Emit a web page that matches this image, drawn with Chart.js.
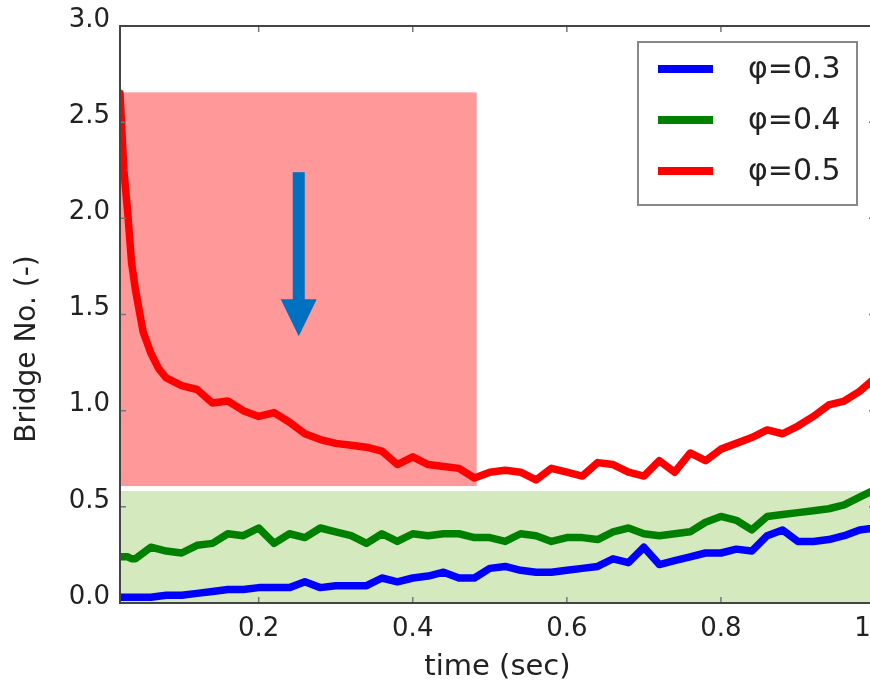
<!DOCTYPE html>
<html>
<head>
<meta charset="utf-8">
<script src="https://cdn.jsdelivr.net/npm/chart.js@4/dist/chart.umd.min.js"></script>
<style>
html, body { margin: 0; padding: 0; background: #fff; overflow: hidden; }
#wrap { width: 870px; height: 687px; overflow: hidden; }
</style>
</head>
<body>
<div id="wrap"><canvas id="bridgeChart" width="900" height="687"></canvas></div>
<script>
// time axis (sec)
var timeSec = [0.02, 0.025, 0.03, 0.035, 0.04, 0.05, 0.06, 0.07, 0.08, 0.10,
               0.12, 0.14, 0.16, 0.18, 0.20,
               0.22, 0.24, 0.26, 0.28, 0.30, 0.32, 0.34, 0.36, 0.38, 0.40,
               0.42, 0.44, 0.46, 0.48, 0.50, 0.52, 0.54, 0.56, 0.58, 0.60,
               0.62, 0.64, 0.66, 0.68, 0.70, 0.72, 0.74, 0.76, 0.78, 0.80,
               0.82, 0.84, 0.86, 0.88, 0.90, 0.92, 0.94, 0.96, 0.98, 1.00];

// Bridge No. for each phi
var phi03 = [0.03, 0.03, 0.03, 0.03, 0.03, 0.03, 0.03, 0.035, 0.04, 0.04,
             0.05, 0.06, 0.07, 0.07, 0.08,
             0.08, 0.08, 0.11, 0.08, 0.09, 0.09, 0.09, 0.13, 0.11, 0.13,
             0.14, 0.16, 0.13, 0.13, 0.18, 0.19, 0.17, 0.16, 0.16, 0.17,
             0.18, 0.19, 0.23, 0.21, 0.29, 0.20, 0.22, 0.24, 0.26, 0.26,
             0.28, 0.27, 0.35, 0.38, 0.32, 0.32, 0.33, 0.35, 0.38, 0.39];
var phi04 = [0.24, 0.24, 0.24, 0.23, 0.23, 0.26, 0.29, 0.28, 0.27, 0.26,
             0.30, 0.31, 0.36, 0.35, 0.39,
             0.31, 0.36, 0.34, 0.39, 0.37, 0.35, 0.31, 0.36, 0.32, 0.36,
             0.35, 0.36, 0.36, 0.34, 0.34, 0.32, 0.36, 0.35, 0.32, 0.34,
             0.34, 0.33, 0.37, 0.39, 0.36, 0.35, 0.36, 0.37, 0.42, 0.45,
             0.43, 0.38, 0.45, 0.46, 0.47, 0.48, 0.49, 0.51, 0.55, 0.59];
var phi05 = [2.65, 2.25, 2.03, 1.77, 1.63, 1.41, 1.30, 1.22, 1.17, 1.13,
             1.11, 1.04, 1.05, 1.00, 0.97,
             0.99, 0.94, 0.88, 0.85, 0.83, 0.82, 0.81, 0.79, 0.72, 0.76,
             0.72, 0.71, 0.70, 0.65, 0.68, 0.69, 0.68, 0.64, 0.70, 0.68,
             0.66, 0.73, 0.72, 0.68, 0.66, 0.74, 0.68, 0.78, 0.74, 0.80,
             0.83, 0.86, 0.90, 0.88, 0.92, 0.97, 1.03, 1.05, 1.10, 1.17];

var seriesLabels = ['φ=0.3', 'φ=0.4', 'φ=0.5'];
var seriesColors = ['#0000ff', '#008000', '#ff0000'];

// shaded regions [xMin, xMax, yMin, yMax] and arrow [x, yTop, yTip] in data units
var redBox = [0.02, 0.483, 0.608, 2.655];
var greenBox = [0.02, 1.0, 0.0, 0.582];
var arrowPos = [0.252, 2.24, 1.387];

function toPoints(vals) {
    return timeSec.map(function (t, i) { return { x: t, y: vals[i] }; });
}

var FONT = 'DejaVu Sans';

// 배경 사각형 + 화살표
var backdropPlugin = {
    id: 'backdrop',
    beforeDatasetsDraw: function (chart) {
        var ctx = chart.ctx, xs = chart.scales.x, ys = chart.scales.y, a = chart.chartArea;
        ctx.save();
        ctx.beginPath();
        ctx.rect(a.left, a.top, a.right - a.left, a.bottom - a.top);
        ctx.clip();
        function box(b, color) {
            var x1 = xs.getPixelForValue(b[0]), x2 = xs.getPixelForValue(b[1]);
            var y1 = ys.getPixelForValue(b[3]), y2 = ys.getPixelForValue(b[2]);
            ctx.fillStyle = color;
            ctx.fillRect(x1, y1, x2 - x1, y2 - y1);
        }
        box(redBox, 'rgb(255,153,153)');
        box(greenBox, 'rgb(213,233,190)');

        var ax = xs.getPixelForValue(arrowPos[0]);
        var top = ys.getPixelForValue(arrowPos[1]);
        var tip = ys.getPixelForValue(arrowPos[2]);
        var headLen = 37;
        ctx.fillStyle = '#0070c0';
        ctx.fillRect(ax - 6, top, 12, tip - headLen - top + 1);
        ctx.beginPath();
        ctx.moveTo(ax - 18, tip - headLen);
        ctx.lineTo(ax + 18, tip - headLen);
        ctx.lineTo(ax, tip);
        ctx.closePath();
        ctx.fill();
        ctx.restore();
    }
};

// 틀, 안쪽 눈금, y축 제목, 범례
var framePlugin = {
    id: 'frame',
    afterDraw: function (chart) {
        var ctx = chart.ctx, xs = chart.scales.x, ys = chart.scales.y, a = chart.chartArea;
        ctx.save();
        ctx.strokeStyle = '#777';
        ctx.lineWidth = 1.5;
        xs.ticks.forEach(function (t) {
            var px = xs.getPixelForValue(t.value);
            ctx.beginPath();
            ctx.moveTo(px, a.bottom); ctx.lineTo(px, a.bottom - 6);
            ctx.moveTo(px, a.top); ctx.lineTo(px, a.top + 6);
            ctx.stroke();
        });
        ys.ticks.forEach(function (t) {
            var py = ys.getPixelForValue(t.value);
            ctx.beginPath();
            ctx.moveTo(a.left, py); ctx.lineTo(a.left + 6, py);
            ctx.moveTo(a.right, py); ctx.lineTo(a.right - 6, py);
            ctx.stroke();
        });
        ctx.strokeStyle = '#444';
        ctx.lineWidth = 2;
        ctx.strokeRect(a.left, a.top, a.right - a.left, a.bottom - a.top);

        ctx.fillStyle = '#222';
        ctx.font = '28px "' + FONT + '"';
        ctx.textAlign = 'center';
        ctx.textBaseline = 'middle';
        ctx.translate(28, 349);
        ctx.rotate(-Math.PI / 2);
        ctx.fillText('Bridge No. (-)', 0, 0);
        ctx.restore();

        // legend box
        ctx.save();
        ctx.fillStyle = '#fff';
        ctx.fillRect(638, 42, 219, 163);
        ctx.strokeStyle = '#888';
        ctx.lineWidth = 2;
        ctx.strokeRect(638, 42, 219, 163);
        ctx.font = '30px "' + FONT + '"';
        ctx.textAlign = 'left';
        ctx.textBaseline = 'middle';
        chart.data.datasets.forEach(function (ds, i) {
            var y = 69 + i * 51;
            ctx.strokeStyle = ds.borderColor;
            ctx.lineWidth = 8;
            ctx.beginPath();
            ctx.moveTo(658, y); ctx.lineTo(713, y);
            ctx.stroke();
            ctx.fillStyle = '#222';
            ctx.fillText(ds.label, 748, y + 1);
        });
        ctx.restore();
    }
};

var tickFont = { family: FONT, size: 26 };

var chart = new Chart(document.getElementById('bridgeChart').getContext('2d'), {
    type: 'line',
    data: {
        datasets: [phi03, phi04, phi05].map(function (vals, i) {
            return {
                label: seriesLabels[i],
                data: toPoints(vals),
                borderColor: seriesColors[i],
                backgroundColor: seriesColors[i],
                borderWidth: 7.5,
                pointRadius: 0,
                tension: 0,
                fill: false,
                borderJoinStyle: 'round',
                borderCapStyle: 'round'
            };
        })
    },
    options: {
        responsive: false,
        animation: false,
        devicePixelRatio: 1,
        layout: { padding: { top: 26, right: 25, bottom: 0, left: 0 } },
        plugins: { legend: { display: false }, tooltip: { enabled: false } },
        scales: {
            x: {
                type: 'linear',
                min: 0.02,
                max: 1.0,
                grid: { display: false, drawTicks: false },
                border: { display: false },
                ticks: {
                    stepSize: 0.2,
                    includeBounds: false,
                    autoSkip: false,
                    maxRotation: 0,
                    padding: 11,
                    color: '#222',
                    font: tickFont,
                    callback: function (v) { return v.toFixed(1); }
                },
                title: {
                    display: true,
                    text: 'time (sec)',
                    color: '#222',
                    font: { family: FONT, size: 29 },
                    padding: { top: 0, bottom: 2 }
                },
                afterFit: function (s) { s.height = 84; s.paddingLeft = 0; s.paddingRight = 0; }
            },
            y: {
                type: 'linear',
                min: 0,
                max: 3,
                grid: { display: false, drawTicks: false },
                border: { display: false },
                ticks: {
                    stepSize: 0.5,
                    padding: 10,
                    labelOffset: -6,
                    color: '#222',
                    font: tickFont,
                    callback: function (v) { return v.toFixed(1); }
                },
                afterFit: function (s) { s.width = 120; s.paddingTop = 0; s.paddingBottom = 0; }
            }
        }
    },
    plugins: [backdropPlugin, framePlugin]
});
</script>
</body>
</html>
